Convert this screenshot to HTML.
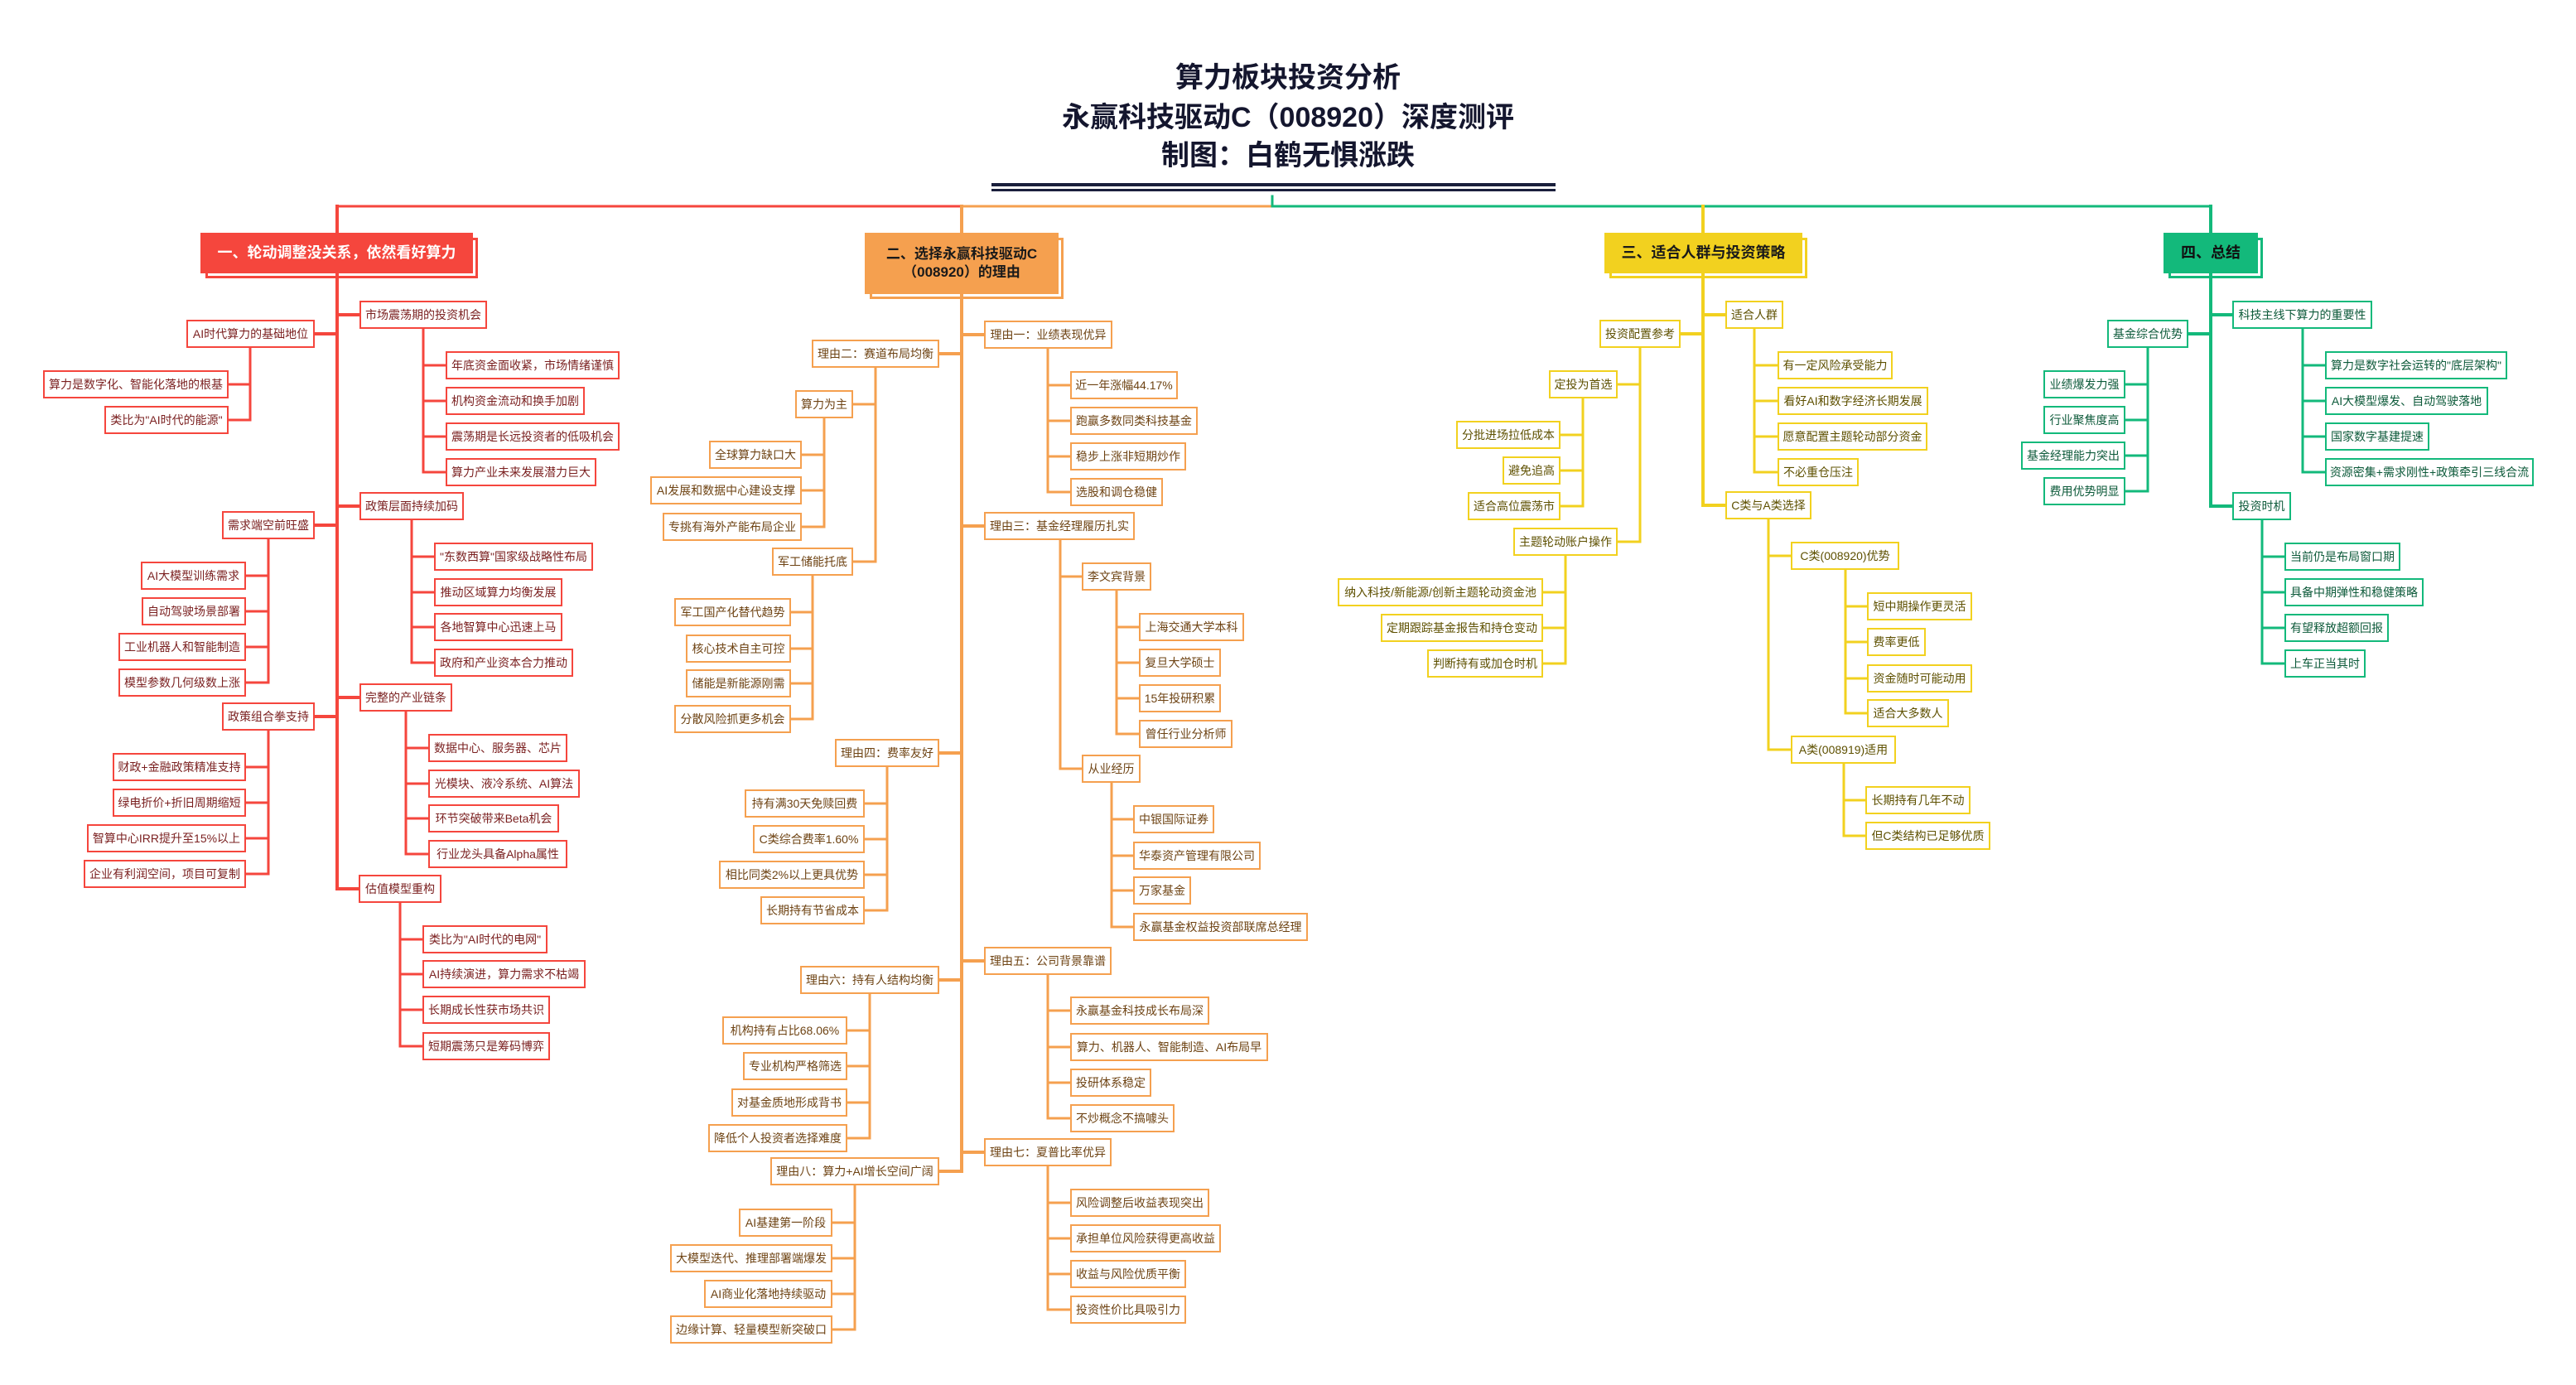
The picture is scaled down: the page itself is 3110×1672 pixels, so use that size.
<!DOCTYPE html>
<html><head><meta charset="utf-8">
<style>
html,body{margin:0;padding:0;background:#fff;}
#c{position:relative;width:3110px;height:1672px;overflow:hidden;background:#fff;font-family:"Liberation Sans","Noto Sans CJK SC",sans-serif;}
svg{position:absolute;left:0;top:0;}
.b{position:absolute;box-sizing:border-box;height:34px;border:2px solid;background:#fff;display:flex;align-items:center;justify-content:center;font-size:14px;white-space:nowrap;}
.r{border-color:#f5463d;color:#7a1f1f;}
.o{border-color:#f5a04f;color:#6e4313;}
.y{border-color:#f2d11f;color:#5e5000;}
.g{border-color:#13b97b;color:#0d5a3a;}
.h{position:absolute;box-sizing:border-box;display:flex;align-items:center;justify-content:center;font-weight:bold;font-size:18px;text-align:center;line-height:1.3;}
.hs{position:absolute;box-sizing:border-box;border:3px solid;}
.t{position:absolute;left:0;width:3110px;text-align:center;font-weight:bold;font-size:34px;color:#14162e;}
</style></head><body><div id="c">
<div class="t" style="top:66px">算力板块投资分析</div>
<div class="t" style="top:114px">永赢科技驱动C（008920）深度测评</div>
<div class="t" style="top:160px">制图：白鹤无惧涨跌</div>
<div style="position:absolute;left:1197px;top:221px;width:681px;height:4px;background:#1a1f3c"></div>
<div style="position:absolute;left:1197px;top:228px;width:681px;height:3px;background:#1a1f3c"></div>

<svg width="3110" height="1672" fill="none" stroke-linecap="square">
<path d="M407 249H1161" stroke="#f5463d" stroke-width="3"/>
<path d="M1161 249H1536" stroke="#f5a04f" stroke-width="3"/>
<path d="M1536 249H2669M1536 237V249" stroke="#13b97b" stroke-width="3"/>
<g stroke="#f5463d" stroke-width="4">
<path d="M407 249V1073M407 380H434M407 611H434M407 842H434M407 1073H434M407 403H380M407 634H380M407 865H380"/>
</g>
<g stroke="#f5463d" stroke-width="3">
<path d="M511 397V570M511 441H538M511 484H538M511 527H538M511 570H538"/>
<path d="M497 628V800M497 672H524M497 715H524M497 757H524M497 800H524"/>
<path d="M490 859V1031M490 903H517M490 946H517M490 988H517M490 1031H517"/>
<path d="M483 1090V1263M483 1134H510M483 1176H510M483 1219H510M483 1263H510"/>
<path d="M302 420V507M302 464H276M302 507H276"/>
<path d="M324 651V824M324 695H297M324 738H297M324 781H297M324 824H297"/>
<path d="M324 882V1055M324 926H297M324 969H297M324 1012H297M324 1055H297"/>
</g>
<g stroke="#f5a04f" stroke-width="4">
<path d="M1161 249V1414M1161 404H1188M1161 635H1188M1161 1160H1188M1161 1391H1188M1161 427H1134M1161 909H1134M1161 1183H1134M1161 1414H1134"/>
</g>
<g stroke="#f5a04f" stroke-width="3">
<path d="M1265 421V594M1265 465H1292M1265 508H1292M1265 551H1292M1265 594H1292"/>
<path d="M1280 652V928M1280 696H1306M1280 928H1306"/>
<path d="M1348 713V886M1348 757H1375M1348 800H1375M1348 843H1375M1348 886H1375"/>
<path d="M1342 945V1119M1342 989H1368M1342 1033H1368M1342 1075H1368M1342 1119H1368"/>
<path d="M1265 1177V1350M1265 1220H1292M1265 1264H1292M1265 1307H1292M1265 1350H1292"/>
<path d="M1265 1408V1581M1265 1452H1292M1265 1495H1292M1265 1538H1292M1265 1581H1292"/>
<path d="M1057 444V678M1057 488H1030M1057 678H1030"/>
<path d="M995 505V636M995 549H968M995 592H968M995 636H968"/>
<path d="M981 695V868M981 739H955M981 783H955M981 825H955M981 868H955"/>
<path d="M1071 926V1099M1071 970H1044M1071 1013H1044M1071 1056H1044M1071 1099H1044"/>
<path d="M1050 1200V1374M1050 1244H1023M1050 1287H1023M1050 1331H1023M1050 1374H1023"/>
<path d="M1032 1431V1605M1032 1476H1005M1032 1519H1005M1032 1562H1005M1032 1605H1005"/>
</g>
<g stroke="#f2d11f" stroke-width="4">
<path d="M2056 249V610M2056 380H2083M2056 610H2083M2056 403H2029"/>
</g>
<g stroke="#f2d11f" stroke-width="3">
<path d="M2118 397V570M2118 441H2146M2118 484H2146M2118 527H2146M2118 570H2146"/>
<path d="M2135 627V905M2135 671H2162M2135 905H2162"/>
<path d="M2228 688V861M2228 732H2254M2228 775H2254M2228 819H2254M2228 861H2254"/>
<path d="M2226 922V1009M2226 966H2252M2226 1009H2252"/>
<path d="M1980 420V654M1980 464H1953M1980 654H1953"/>
<path d="M1911 481V611M1911 525H1884M1911 568H1884M1911 611H1884"/>
<path d="M1890 671V801M1890 715H1863M1890 758H1863M1890 801H1863"/>
</g>
<g stroke="#13b97b" stroke-width="4">
<path d="M2669 249V611M2669 380H2695M2669 611H2695M2669 403H2642"/>
</g>
<g stroke="#13b97b" stroke-width="3">
<path d="M2780 397V570M2780 441H2807M2780 484H2807M2780 527H2807M2780 570H2807"/>
<path d="M2731 628V801M2731 672H2758M2731 715H2758M2731 758H2758M2731 801H2758"/>
<path d="M2593 420V593M2593 464H2566M2593 507H2566M2593 550H2566M2593 593H2566"/>
</g>
</svg>

<div class="hs" style="left:248px;top:287px;width:329px;height:49px;border-color:#f5463d"></div>
<div class="h" style="left:242px;top:281px;width:329px;height:49px;background:#f5463d;color:#fff">一、轮动调整没关系，依然看好算力</div>
<div class="hs" style="left:1050px;top:287px;width:234px;height:74px;border-color:#f5a04f"></div>
<div class="h" style="left:1044px;top:281px;width:234px;height:74px;background:#f5a04f;color:#1a1a1a;font-size:17px">二、选择永赢科技驱动C<br>（008920）的理由</div>
<div class="hs" style="left:1943px;top:287px;width:239px;height:49px;border-color:#f2d11f"></div>
<div class="h" style="left:1937px;top:281px;width:239px;height:49px;background:#f2d11f;color:#1a1a1a">三、适合人群与投资策略</div>
<div class="hs" style="left:2618px;top:287px;width:114px;height:49px;border-color:#13b97b"></div>
<div class="h" style="left:2612px;top:281px;width:114px;height:49px;background:#13b97b;color:#111">四、总结</div>

<div class="b r" style="left:434px;top:363px;width:154px">市场震荡期的投资机会</div>
<div class="b r" style="left:538px;top:424px;width:210px">年底资金面收紧，市场情绪谨慎</div>
<div class="b r" style="left:538px;top:467px;width:168px">机构资金流动和换手加剧</div>
<div class="b r" style="left:538px;top:510px;width:210px">震荡期是长远投资者的低吸机会</div>
<div class="b r" style="left:538px;top:553px;width:182px">算力产业未来发展潜力巨大</div>
<div class="b r" style="left:434px;top:594px;width:126px">政策层面持续加码</div>
<div class="b r" style="left:524px;top:655px;width:192px">"东数西算"国家级战略性布局</div>
<div class="b r" style="left:524px;top:698px;width:155px">推动区域算力均衡发展</div>
<div class="b r" style="left:524px;top:740px;width:155px">各地智算中心迅速上马</div>
<div class="b r" style="left:524px;top:783px;width:168px">政府和产业资本合力推动</div>
<div class="b r" style="left:434px;top:825px;width:112px">完整的产业链条</div>
<div class="b r" style="left:517px;top:886px;width:168px">数据中心、服务器、芯片</div>
<div class="b r" style="left:517px;top:929px;width:183px">光模块、液冷系统、AI算法</div>
<div class="b r" style="left:517px;top:971px;width:158px">环节突破带来Beta机会</div>
<div class="b r" style="left:517px;top:1014px;width:168px">行业龙头具备Alpha属性</div>
<div class="b r" style="left:433px;top:1056px;width:100px">估值模型重构</div>
<div class="b r" style="left:510px;top:1117px;width:151px">类比为"AI时代的电网"</div>
<div class="b r" style="left:510px;top:1159px;width:197px">AI持续演进，算力需求不枯竭</div>
<div class="b r" style="left:510px;top:1202px;width:154px">长期成长性获市场共识</div>
<div class="b r" style="left:510px;top:1246px;width:154px">短期震荡只是筹码博弈</div>
<div class="b r" style="left:225px;top:386px;width:155px">AI时代算力的基础地位</div>
<div class="b r" style="left:52px;top:447px;width:224px">算力是数字化、智能化落地的根基</div>
<div class="b r" style="left:126px;top:490px;width:150px">类比为"AI时代的能源"</div>
<div class="b r" style="left:268px;top:617px;width:112px">需求端空前旺盛</div>
<div class="b r" style="left:170px;top:678px;width:127px">AI大模型训练需求</div>
<div class="b r" style="left:171px;top:721px;width:126px">自动驾驶场景部署</div>
<div class="b r" style="left:143px;top:764px;width:154px">工业机器人和智能制造</div>
<div class="b r" style="left:143px;top:807px;width:154px">模型参数几何级数上涨</div>
<div class="b r" style="left:268px;top:848px;width:112px">政策组合拳支持</div>
<div class="b r" style="left:136px;top:909px;width:161px">财政+金融政策精准支持</div>
<div class="b r" style="left:136px;top:952px;width:161px">绿电折价+折旧周期缩短</div>
<div class="b r" style="left:105px;top:995px;width:192px">智算中心IRR提升至15%以上</div>
<div class="b r" style="left:101px;top:1038px;width:196px">企业有利润空间，项目可复制</div>

<div class="b o" style="left:1188px;top:387px;width:155px">理由一：业绩表现优异</div>
<div class="b o" style="left:1292px;top:448px;width:130px">近一年涨幅44.17%</div>
<div class="b o" style="left:1292px;top:491px;width:154px">跑赢多数同类科技基金</div>
<div class="b o" style="left:1292px;top:534px;width:140px">稳步上涨非短期炒作</div>
<div class="b o" style="left:1292px;top:577px;width:112px">选股和调仓稳健</div>
<div class="b o" style="left:1188px;top:618px;width:182px">理由三：基金经理履历扎实</div>
<div class="b o" style="left:1306px;top:679px;width:84px">李文宾背景</div>
<div class="b o" style="left:1375px;top:740px;width:127px">上海交通大学本科</div>
<div class="b o" style="left:1375px;top:783px;width:99px">复旦大学硕士</div>
<div class="b o" style="left:1375px;top:826px;width:99px">15年投研积累</div>
<div class="b o" style="left:1375px;top:869px;width:113px">曾任行业分析师</div>
<div class="b o" style="left:1306px;top:911px;width:71px">从业经历</div>
<div class="b o" style="left:1368px;top:972px;width:98px">中银国际证券</div>
<div class="b o" style="left:1368px;top:1016px;width:154px">华泰资产管理有限公司</div>
<div class="b o" style="left:1368px;top:1058px;width:70px">万家基金</div>
<div class="b o" style="left:1368px;top:1102px;width:211px">永赢基金权益投资部联席总经理</div>
<div class="b o" style="left:1188px;top:1143px;width:154px">理由五：公司背景靠谱</div>
<div class="b o" style="left:1292px;top:1203px;width:168px">永赢基金科技成长布局深</div>
<div class="b o" style="left:1292px;top:1247px;width:239px">算力、机器人、智能制造、AI布局早</div>
<div class="b o" style="left:1292px;top:1290px;width:98px">投研体系稳定</div>
<div class="b o" style="left:1292px;top:1333px;width:126px">不炒概念不搞噱头</div>
<div class="b o" style="left:1188px;top:1374px;width:154px">理由七：夏普比率优异</div>
<div class="b o" style="left:1292px;top:1435px;width:168px">风险调整后收益表现突出</div>
<div class="b o" style="left:1292px;top:1478px;width:182px">承担单位风险获得更高收益</div>
<div class="b o" style="left:1292px;top:1521px;width:140px">收益与风险优质平衡</div>
<div class="b o" style="left:1292px;top:1564px;width:140px">投资性价比具吸引力</div>
<div class="b o" style="left:980px;top:410px;width:154px">理由二：赛道布局均衡</div>
<div class="b o" style="left:960px;top:471px;width:70px">算力为主</div>
<div class="b o" style="left:856px;top:532px;width:112px">全球算力缺口大</div>
<div class="b o" style="left:785px;top:575px;width:183px">AI发展和数据中心建设支撑</div>
<div class="b o" style="left:800px;top:619px;width:168px">专挑有海外产能布局企业</div>
<div class="b o" style="left:932px;top:661px;width:98px">军工储能托底</div>
<div class="b o" style="left:814px;top:722px;width:141px">军工国产化替代趋势</div>
<div class="b o" style="left:828px;top:766px;width:127px">核心技术自主可控</div>
<div class="b o" style="left:828px;top:808px;width:127px">储能是新能源刚需</div>
<div class="b o" style="left:814px;top:851px;width:141px">分散风险抓更多机会</div>
<div class="b o" style="left:1008px;top:892px;width:126px">理由四：费率友好</div>
<div class="b o" style="left:899px;top:953px;width:145px">持有满30天免赎回费</div>
<div class="b o" style="left:909px;top:996px;width:135px">C类综合费率1.60%</div>
<div class="b o" style="left:868px;top:1039px;width:176px">相比同类2%以上更具优势</div>
<div class="b o" style="left:918px;top:1082px;width:126px">长期持有节省成本</div>
<div class="b o" style="left:966px;top:1166px;width:168px">理由六：持有人结构均衡</div>
<div class="b o" style="left:872px;top:1227px;width:151px">机构持有占比68.06%</div>
<div class="b o" style="left:897px;top:1270px;width:126px">专业机构严格筛选</div>
<div class="b o" style="left:883px;top:1314px;width:140px">对基金质地形成背书</div>
<div class="b o" style="left:855px;top:1357px;width:168px">降低个人投资者选择难度</div>
<div class="b o" style="left:930px;top:1397px;width:204px">理由八：算力+AI增长空间广阔</div>
<div class="b o" style="left:892px;top:1459px;width:113px">AI基建第一阶段</div>
<div class="b o" style="left:809px;top:1502px;width:196px">大模型迭代、推理部署端爆发</div>
<div class="b o" style="left:850px;top:1545px;width:155px">AI商业化落地持续驱动</div>
<div class="b o" style="left:809px;top:1588px;width:196px">边缘计算、轻量模型新突破口</div>

<div class="b y" style="left:2083px;top:363px;width:70px">适合人群</div>
<div class="b y" style="left:2146px;top:424px;width:139px">有一定风险承受能力</div>
<div class="b y" style="left:2146px;top:467px;width:182px">看好AI和数字经济长期发展</div>
<div class="b y" style="left:2146px;top:510px;width:181px">愿意配置主题轮动部分资金</div>
<div class="b y" style="left:2146px;top:553px;width:98px">不必重仓压注</div>
<div class="b y" style="left:2083px;top:593px;width:104px">C类与A类选择</div>
<div class="b y" style="left:2162px;top:654px;width:131px">C类(008920)优势</div>
<div class="b y" style="left:2254px;top:715px;width:127px">短中期操作更灵活</div>
<div class="b y" style="left:2254px;top:758px;width:71px">费率更低</div>
<div class="b y" style="left:2254px;top:802px;width:127px">资金随时可能动用</div>
<div class="b y" style="left:2254px;top:844px;width:99px">适合大多数人</div>
<div class="b y" style="left:2162px;top:888px;width:127px">A类(008919)适用</div>
<div class="b y" style="left:2252px;top:949px;width:127px">长期持有几年不动</div>
<div class="b y" style="left:2252px;top:992px;width:151px">但C类结构已足够优质</div>
<div class="b y" style="left:1931px;top:386px;width:98px">投资配置参考</div>
<div class="b y" style="left:1870px;top:447px;width:83px">定投为首选</div>
<div class="b y" style="left:1758px;top:508px;width:126px">分批进场拉低成本</div>
<div class="b y" style="left:1814px;top:551px;width:70px">避免追高</div>
<div class="b y" style="left:1772px;top:594px;width:112px">适合高位震荡市</div>
<div class="b y" style="left:1827px;top:637px;width:126px">主题轮动账户操作</div>
<div class="b y" style="left:1615px;top:698px;width:248px">纳入科技/新能源/创新主题轮动资金池</div>
<div class="b y" style="left:1667px;top:741px;width:196px">定期跟踪基金报告和持仓变动</div>
<div class="b y" style="left:1723px;top:784px;width:140px">判断持有或加仓时机</div>

<div class="b g" style="left:2695px;top:363px;width:169px">科技主线下算力的重要性</div>
<div class="b g" style="left:2807px;top:424px;width:220px">算力是数字社会运转的"底层架构"</div>
<div class="b g" style="left:2807px;top:467px;width:197px">AI大模型爆发、自动驾驶落地</div>
<div class="b g" style="left:2807px;top:510px;width:126px">国家数字基建提速</div>
<div class="b g" style="left:2807px;top:553px;width:252px">资源密集+需求刚性+政策牵引三线合流</div>
<div class="b g" style="left:2695px;top:594px;width:71px">投资时机</div>
<div class="b g" style="left:2758px;top:655px;width:140px">当前仍是布局窗口期</div>
<div class="b g" style="left:2758px;top:698px;width:168px">具备中期弹性和稳健策略</div>
<div class="b g" style="left:2758px;top:741px;width:126px">有望释放超额回报</div>
<div class="b g" style="left:2758px;top:784px;width:98px">上车正当其时</div>
<div class="b g" style="left:2544px;top:386px;width:98px">基金综合优势</div>
<div class="b g" style="left:2467px;top:447px;width:99px">业绩爆发力强</div>
<div class="b g" style="left:2467px;top:490px;width:99px">行业聚焦度高</div>
<div class="b g" style="left:2440px;top:533px;width:126px">基金经理能力突出</div>
<div class="b g" style="left:2467px;top:576px;width:99px">费用优势明显</div>
</div></body></html>
